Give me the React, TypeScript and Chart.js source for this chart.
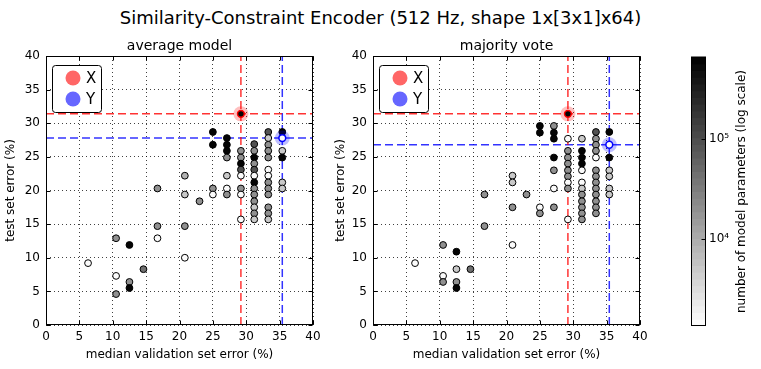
import React, { useEffect, useRef } from "react";
import { Chart, registerables } from "chart.js";
Chart.register(...registerables);

const FONT = "'DejaVu Sans', 'Liberation Sans', sans-serif";

const TITLE = "Similarity-Constraint Encoder (512 Hz, shape 1x[3x1]x64)";
const PANEL_TITLES = ["average model", "majority vote"];
const X_LABEL = "median validation set error (%)";
const Y_LABEL = "test set error (%)";
const CB_LABEL = "number of model parameters (log scale)";
const AXIS_TICKS = [0, 5, 10, 15, 20, 25, 30, 35, 40];
const CB_TICKS = [10000, 100000];
const CB_TICK_LABELS = ["10⁴", "10⁵"];
const CB_MIN = 1350;
const CB_MAX = 660000;
const LEGEND_LABELS = ["X", "Y"];

// ---- average model ----
const avgX = [
  6.3, 10.5, 10.5, 10.5, 12.5, 12.5, 12.5, 14.6, 16.7, 16.7, 16.7, 20.8, 20.8, 20.8, 20.8, 23.0,
  25.0, 25.0, 25.0, 25.0,
  27.1, 27.1, 27.1, 27.1, 27.1, 27.1, 27.1,
  29.2, 29.2, 29.2, 29.2, 29.2, 29.2, 29.2, 29.2,
  31.2, 31.2, 31.2, 31.2, 31.2, 31.2, 31.2, 31.2, 31.2, 31.2, 31.2, 31.2, 31.2,
  33.3, 33.3, 33.3, 33.3, 33.3, 33.3, 33.3, 33.3, 33.3, 33.3, 33.3, 33.3, 33.3,
  35.4, 35.4, 35.4, 35.4, 35.4,
];
const avgY = [
  9.2, 12.9, 7.3, 4.6, 11.9, 6.4, 5.5, 8.3, 20.3, 14.7, 12.9, 22.2, 19.4, 14.7, 10.0, 18.4,
  28.7, 26.8, 20.3, 19.4,
  27.8, 26.8, 25.9, 24.9, 22.2, 20.3, 19.4,
  25.9, 24.9, 24.0, 23.1, 22.2, 20.3, 19.4, 15.7,
  26.9, 25.9, 24.9, 24.0, 23.1, 22.2, 21.2, 20.3, 19.4, 18.4, 17.5, 16.6, 15.7,
  28.7, 27.8, 26.8, 25.9, 24.9, 23.1, 22.2, 21.2, 20.3, 19.4, 17.5, 16.6, 15.7,
  28.7, 25.9, 24.9, 21.2, 20.3,
];
const avgParams = [
  1500, 20000, 1500, 20000, 600000, 20000, 600000, 45000, 20000, 20000, 1500, 9000, 5000, 20000, 1500, 20000,
  600000, 600000, 20000, 1500,
  600000, 600000, 600000, 20000, 5000, 1500, 20000,
  20000, 20000, 600000, 90000, 1500, 20000, 1500, 1500,
  90000, 20000, 600000, 20000, 90000, 1500, 600000, 20000, 20000, 20000, 5000, 20000, 5000,
  90000, 5000, 20000, 20000, 20000, 1500, 1500, 20000, 20000, 20000, 20000, 20000, 5000,
  600000, 5000, 600000, 5000, 5000,
];
const avgMarkX = [29.2, 35.4];
const avgMarkY = [31.4, 27.8];
const avgMarkParams = [600000, 1500];

// ---- majority vote ----
const voteX = [
  6.3, 10.5, 10.5, 10.5, 12.5, 12.5, 12.5, 12.5, 14.6, 16.7, 16.7, 20.9, 20.9, 20.9, 20.9, 23.0,
  25.0, 25.0, 25.0, 25.0,
  27.1, 27.1, 27.1, 27.1, 27.1, 27.1, 27.1,
  29.2, 29.2, 29.2, 29.2, 29.2, 29.2, 29.2, 29.2, 29.2,
  31.3, 31.3, 31.3, 31.3, 31.3, 31.3, 31.3, 31.3, 31.3, 31.3, 31.3, 31.3,
  33.4, 33.4, 33.4, 33.4, 33.4, 33.4, 33.4, 33.4, 33.4, 33.4, 33.4, 33.4, 33.4,
  35.4, 35.4, 35.4, 35.4, 35.4, 35.4,
];
const voteY = [
  9.2, 11.9, 7.3, 6.4, 10.9, 8.3, 6.4, 5.5, 8.3, 19.4, 14.7, 22.2, 21.2, 17.5, 11.9, 19.4,
  29.6, 28.6, 17.5, 16.6,
  29.6, 28.6, 27.7, 24.9, 23.0, 20.3, 17.5,
  27.7, 25.9, 24.9, 24.0, 23.0, 22.1, 21.2, 20.3, 15.7,
  27.7, 25.9, 24.9, 24.0, 23.0, 21.2, 20.3, 19.4, 18.4, 17.5, 16.6, 15.7,
  28.7, 27.7, 26.8, 25.9, 24.9, 23.0, 22.1, 21.2, 20.3, 19.4, 18.4, 17.5, 16.6,
  28.7, 24.9, 23.0, 22.1, 20.3, 19.4,
];
const voteParams = [
  1500, 20000, 1500, 20000, 600000, 5000, 20000, 600000, 45000, 20000, 20000, 5000, 5000, 20000, 1500, 20000,
  600000, 600000, 1500, 20000,
  20000, 600000, 600000, 600000, 20000, 1500, 20000,
  1500, 20000, 20000, 20000, 20000, 20000, 1500, 20000, 1500,
  5000, 600000, 600000, 600000, 1500, 1500, 5000, 20000, 20000, 20000, 20000, 20000,
  90000, 20000, 20000, 20000, 1500, 20000, 20000, 20000, 20000, 20000, 20000, 20000, 20000,
  600000, 600000, 5000, 5000, 5000, 5000,
];
const voteMarkX = [29.2, 35.4];
const voteMarkY = [31.4, 26.8];
const voteMarkParams = [600000, 1500];

const MARK_RGB = ["255,0,0", "0,0,255"];

function grayFor(p: number): string {
  const lmin = Math.log10(CB_MIN);
  const lmax = Math.log10(CB_MAX);
  let t = (Math.log10(p) - lmin) / (lmax - lmin);
  t = Math.max(0, Math.min(1, t));
  const g = Math.round(255 * (1 - t));
  return `rgb(${g},${g},${g})`;
}

function panelDecor(title: string) {
  return {
    id: "panelDecor",
    afterDraw(chart: any) {
      const { ctx, chartArea: a, scales } = chart;
      const xs = scales.x;
      const ys = scales.y;
      ctx.save();
      const L = Math.round(a.left) + 0.5;
      const R = Math.round(a.right) - 0.5;
      const T = Math.round(a.top) + 0.5;
      const B = Math.round(a.bottom) - 0.5;
      ctx.strokeStyle = "#000";
      ctx.lineWidth = 1;
      ctx.setLineDash([]);
      ctx.strokeRect(L, T, R - L, B - T);
      ctx.beginPath();
      for (const v of AXIS_TICKS) {
        const px = Math.round(xs.getPixelForValue(v)) + 0.5;
        ctx.moveTo(px, B);
        ctx.lineTo(px, B - 4);
        ctx.moveTo(px, T);
        ctx.lineTo(px, T + 4);
        const py = Math.round(ys.getPixelForValue(v)) + 0.5;
        ctx.moveTo(L, py);
        ctx.lineTo(L + 4, py);
        ctx.moveTo(R, py);
        ctx.lineTo(R - 4, py);
      }
      ctx.stroke();
      // subtitle
      ctx.fillStyle = "#000";
      ctx.font = `14px ${FONT}`;
      ctx.textAlign = "center";
      ctx.textBaseline = "bottom";
      ctx.fillText(title, (a.left + a.right) / 2, a.top - 3);
      // legend
      const bx = a.left + 6;
      const by = a.top + 9;
      const bw = 49;
      const bh = 47;
      ctx.beginPath();
      ctx.roundRect(bx + 0.5, by + 0.5, bw, bh, 3);
      ctx.fillStyle = "#fff";
      ctx.fill();
      ctx.strokeStyle = "#000";
      ctx.lineWidth = 1;
      ctx.stroke();
      LEGEND_LABELS.forEach((lab, i) => {
        const cy = by + 13 + i * 21;
        ctx.beginPath();
        ctx.arc(bx + 21, cy, 7.5, 0, Math.PI * 2);
        ctx.fillStyle = `rgba(${MARK_RGB[i]},0.6)`;
        ctx.fill();
        ctx.fillStyle = "#000";
        ctx.font = `15px ${FONT}`;
        ctx.textAlign = "left";
        ctx.textBaseline = "middle";
        ctx.fillText(lab, bx + 34, cy + 1);
      });
      ctx.restore();
    },
  };
}

function makePanel(
  canvas: HTMLCanvasElement,
  xsArr: number[],
  ysArr: number[],
  psArr: number[],
  mx: number[],
  my: number[],
  mp: number[],
  title: string,
  yWidth: number,
  padRight: number
) {
  const lineSets: any[] = [];
  mx.forEach((_, i) => {
    const col = `rgba(${MARK_RGB[i]},0.8)`;
    lineSets.push({
      data: [{ x: 0, y: my[i] }, { x: 40, y: my[i] }],
      showLine: true,
      pointRadius: 0,
      borderColor: col,
      borderWidth: 1.5,
      borderDash: [8, 4],
      order: 5,
    });
    lineSets.push({
      data: [{ x: mx[i], y: 0 }, { x: mx[i], y: 40 }],
      showLine: true,
      pointRadius: 0,
      borderColor: col,
      borderWidth: 1.5,
      borderDash: [8, 4],
      order: 5,
    });
  });
  const markPts = mx.map((x, i) => ({ x, y: my[i] }));
  const font = { family: FONT, size: 12 };
  return new Chart(canvas, {
    type: "scatter",
    data: {
      datasets: [
        {
          data: markPts,
          pointBackgroundColor: mp.map(grayFor),
          pointBorderColor: MARK_RGB.map((c) => `rgb(${c})`),
          pointBorderWidth: 1.5,
          pointRadius: 3.4,
          order: 0,
        },
        {
          data: markPts,
          pointBackgroundColor: MARK_RGB.map((c) => `rgba(${c},0.25)`),
          pointBorderWidth: 0,
          pointRadius: 7.5,
          order: 1,
        },
        {
          data: xsArr.map((x, i) => ({ x, y: ysArr[i] })),
          pointBackgroundColor: psArr.map(grayFor),
          pointBorderColor: "#000",
          pointBorderWidth: 1,
          pointRadius: 3.4,
          order: 2,
        },
        ...lineSets,
      ],
    },
    options: {
      responsive: false,
      animation: false,
      events: [],
      layout: { padding: { top: 20, right: padRight, bottom: 0, left: 0 } },
      plugins: {
        legend: { display: false },
        tooltip: { enabled: false },
        title: { display: false },
      },
      scales: {
        x: {
          type: "linear",
          min: 0,
          max: 40,
          afterBuildTicks: (s: any) => {
            s.ticks = AXIS_TICKS.map((v) => ({ value: v }));
          },
          afterFit: (s: any) => {
            s.height = 44;
          },
          ticks: { color: "#000", font, padding: 5, maxRotation: 0 },
          grid: { color: "rgba(0,0,0,0.75)", lineWidth: 1, drawTicks: false },
          border: { display: false, dash: [1, 3] },
          title: {
            display: true,
            text: X_LABEL,
            color: "#000",
            font,
            padding: { top: 0, bottom: 7 },
          },
        },
        y: {
          type: "linear",
          min: 0,
          max: 40,
          afterBuildTicks: (s: any) => {
            s.ticks = AXIS_TICKS.map((v) => ({ value: v }));
          },
          afterFit: (s: any) => {
            s.width = yWidth;
          },
          ticks: { color: "#000", font, padding: 6 },
          grid: { color: "rgba(0,0,0,0.75)", lineWidth: 1, drawTicks: false },
          border: { display: false, dash: [1, 3] },
          title: {
            display: true,
            text: Y_LABEL,
            color: "#000",
            font,
            padding: { top: 4, bottom: 0 },
          },
        },
      },
    } as any,
    plugins: [panelDecor(title)],
  });
}

const colorbarPlugin = {
  id: "colorbarPlugin",
  beforeDraw(chart: any) {
    const { ctx, chartArea: a, scales } = chart;
    const ys = scales.y;
    const N = 40;
    const lmin = Math.log10(CB_MIN);
    const lmax = Math.log10(CB_MAX);
    ctx.save();
    for (let j = 0; j < N; j++) {
      const v0 = Math.pow(10, lmin + ((lmax - lmin) * j) / N);
      const v1 = Math.pow(10, lmin + ((lmax - lmin) * (j + 1)) / N);
      const y0 = ys.getPixelForValue(v0);
      const y1 = ys.getPixelForValue(v1);
      const g = Math.round(255 * (1 - (j + 0.5) / N));
      ctx.fillStyle = `rgb(${g},${g},${g})`;
      ctx.fillRect(a.left, Math.min(y0, y1) - 0.5, a.right - a.left, Math.abs(y1 - y0) + 1);
    }
    ctx.restore();
  },
  afterDraw(chart: any) {
    const { ctx, chartArea: a, scales } = chart;
    const ys = scales.y;
    ctx.save();
    const L = Math.round(a.left) + 0.5;
    const R = Math.round(a.right) - 0.5;
    const T = Math.round(a.top) + 0.5;
    const B = Math.round(a.bottom) - 0.5;
    ctx.strokeStyle = "#000";
    ctx.lineWidth = 1;
    ctx.strokeRect(L, T, R - L, B - T);
    ctx.beginPath();
    for (const v of CB_TICKS) {
      const py = Math.round(ys.getPixelForValue(v)) + 0.5;
      ctx.moveTo(R, py);
      ctx.lineTo(R - 4, py);
    }
    ctx.stroke();
    ctx.translate(82, (a.top + a.bottom) / 2);
    ctx.rotate(-Math.PI / 2);
    ctx.fillStyle = "#000";
    ctx.font = `12px ${FONT}`;
    ctx.textAlign = "center";
    ctx.textBaseline = "middle";
    ctx.fillText(CB_LABEL, 0, 0);
    ctx.restore();
  },
};

function makeColorbar(canvas: HTMLCanvasElement) {
  return new Chart(canvas, {
    type: "scatter",
    data: { datasets: [] },
    options: {
      responsive: false,
      animation: false,
      events: [],
      layout: { padding: { top: 21, bottom: 43, left: 31, right: 0 } },
      plugins: { legend: { display: false }, tooltip: { enabled: false } },
      scales: {
        x: { display: false, min: 0, max: 1 },
        y: {
          type: "logarithmic",
          position: "right",
          min: CB_MIN,
          max: CB_MAX,
          afterBuildTicks: (s: any) => {
            s.ticks = CB_TICKS.map((v) => ({ value: v }));
          },
          afterFit: (s: any) => {
            s.width = 55;
          },
          ticks: {
            color: "#000",
            font: { family: FONT, size: 12 },
            padding: 3,
            callback: (v: any) => CB_TICK_LABELS[CB_TICKS.indexOf(Number(v))] ?? "",
          },
          grid: { display: false, drawTicks: false },
          border: { display: false },
        },
      },
    } as any,
    plugins: [colorbarPlugin],
  });
}

export default function App() {
  const leftRef = useRef<HTMLCanvasElement>(null);
  const rightRef = useRef<HTMLCanvasElement>(null);
  const cbRef = useRef<HTMLCanvasElement>(null);

  useEffect(() => {
    const c1 = makePanel(leftRef.current!, avgX, avgY, avgParams, avgMarkX, avgMarkY, avgMarkParams, PANEL_TITLES[0], 46, 17);
    const c2 = makePanel(rightRef.current!, voteX, voteY, voteParams, voteMarkX, voteMarkY, voteMarkParams, PANEL_TITLES[1], 43, 20);
    const c3 = makeColorbar(cbRef.current!);
    return () => {
      c1.destroy();
      c2.destroy();
      c3.destroy();
    };
  }, []);

  return (
    <div style={{ position: "absolute", left: 0, top: 0, width: 761, height: 369, background: "#fff", overflow: "hidden" }}>
      <div
        style={{
          position: "absolute",
          left: 0,
          top: 7,
          width: 761,
          textAlign: "center",
          fontFamily: FONT,
          fontSize: 18,
          lineHeight: "22px",
          color: "#000",
        }}
      >
        {TITLE}
      </div>
      <canvas ref={leftRef} width={330} height={333} style={{ position: "absolute", left: 0, top: 36, width: 330, height: 333 }} />
      <canvas ref={rightRef} width={330} height={333} style={{ position: "absolute", left: 330, top: 36, width: 330, height: 333 }} />
      <canvas ref={cbRef} width={101} height={333} style={{ position: "absolute", left: 660, top: 36, width: 101, height: 333 }} />
    </div>
  );
}
